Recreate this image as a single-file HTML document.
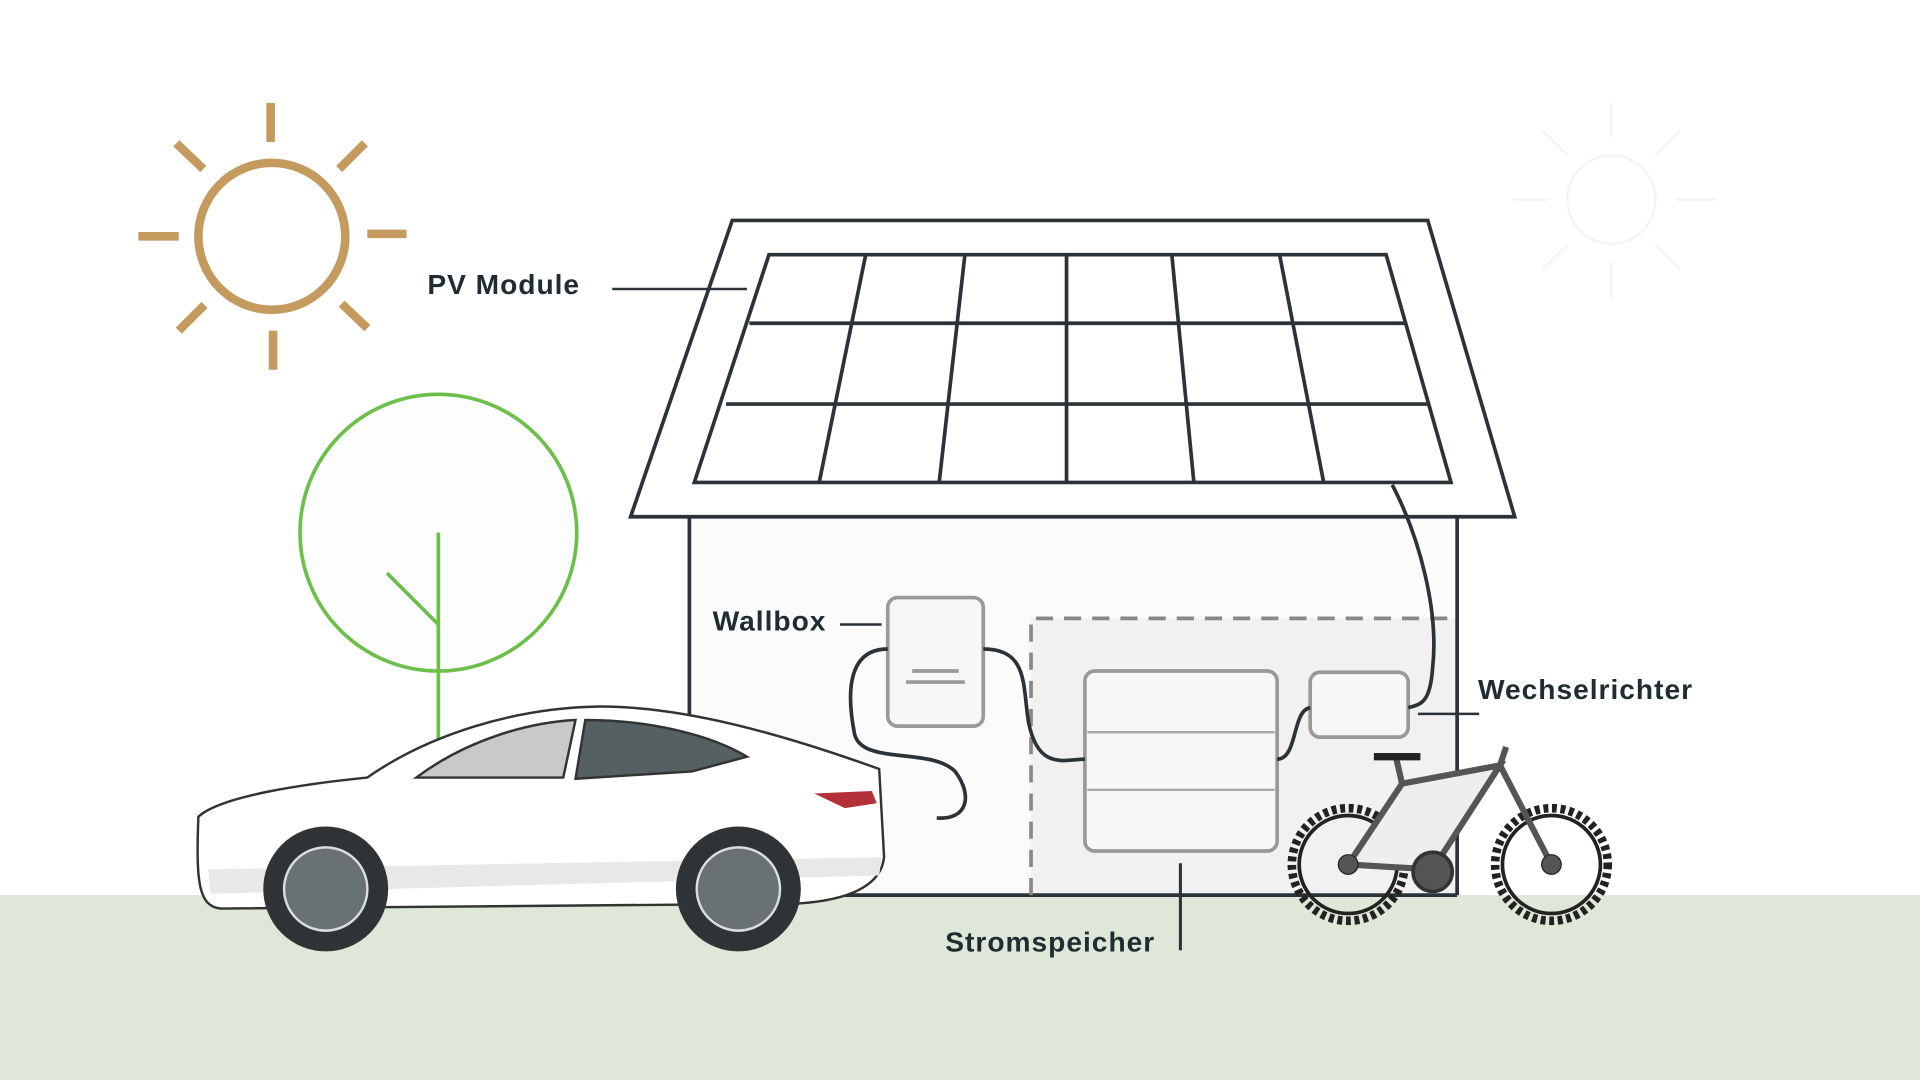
<!DOCTYPE html>
<html><head><meta charset="utf-8"><style>
html,body{margin:0;padding:0;background:#fff;}
svg{display:block}
text{font-family:"Liberation Sans",sans-serif;font-weight:bold;fill:#1f2d33;font-size:23px;letter-spacing:0.8px}
</style></head><body>
<svg width="1920" height="1080" viewBox="0 0 1568 882" xmlns="http://www.w3.org/2000/svg">
<rect x="0" y="0" width="1568" height="882" fill="#fff"/>
<rect x="0" y="731" width="1568" height="151" fill="#dfe8d8"/>
<!-- sun -->
<g stroke="#c49a5e" stroke-width="7" fill="none" stroke-linecap="butt">
<circle cx="222" cy="193" r="60"/>
<line x1="221" y1="84" x2="221" y2="116"/><line x1="223" y1="270" x2="223" y2="302"/>
<line x1="113" y1="193" x2="146" y2="193"/><line x1="300" y1="191" x2="332" y2="191"/>
<line x1="144" y1="117" x2="166" y2="138"/><line x1="298" y1="117" x2="277" y2="138"/>
<line x1="146" y1="270" x2="167" y2="249"/><line x1="300" y1="268" x2="279" y2="248"/>
</g>
<g stroke="#f4f4f4" stroke-width="2" fill="none">
<circle cx="1316" cy="163" r="36"/>
<line x1="1316" y1="84" x2="1316" y2="112"/><line x1="1316" y1="214" x2="1316" y2="244"/>
<line x1="1235" y1="163" x2="1265" y2="163"/><line x1="1368" y1="163" x2="1402" y2="163"/>
<line x1="1260" y1="107" x2="1280" y2="127"/><line x1="1372" y1="107" x2="1352" y2="127"/>
<line x1="1260" y1="220" x2="1280" y2="200"/><line x1="1372" y1="220" x2="1352" y2="200"/>
</g>
<!-- tree -->
<g stroke="#6cc04a" stroke-width="3" fill="none">
<circle cx="358" cy="435" r="113" fill="#fdfdfd"/>
<line x1="358" y1="435" x2="358" y2="610"/><line x1="316" y1="468" x2="358" y2="510"/>
</g>
<!-- house -->
<rect x="563" y="422" width="627" height="309" fill="#fbfbfb"/>
<rect x="842" y="505" width="348" height="226" fill="#f1f1f1"/>
<g stroke="#2b3338" stroke-width="3" fill="none">
<line x1="563" y1="422" x2="563" y2="731"/><line x1="1190" y1="422" x2="1190" y2="731"/>
<line x1="563" y1="731" x2="1190" y2="731"/>
<polygon points="598,180 1166,180 1237,422 515,422" fill="#fff"/>
<polygon points="628,208 1132,208 1185,394 567,394" fill="#fff"/>
<line x1="612" y1="264" x2="1148" y2="264"/><line x1="593" y1="330" x2="1166" y2="330"/>
<line x1="707" y1="208" x2="669" y2="394"/><line x1="788" y1="208" x2="767" y2="394"/>
<line x1="871" y1="208" x2="871" y2="394"/><line x1="957" y1="208" x2="975" y2="394"/>
<line x1="1045" y1="208" x2="1081" y2="394"/>
</g>
<path d="M842 731 V505 H1190" stroke="#888" stroke-width="3" stroke-dasharray="14 9" fill="none"/>
<!-- devices -->
<g stroke="#999" stroke-width="3" fill="#f7f7f7">
<rect x="725" y="488" width="78" height="105" rx="8"/>
<rect x="886" y="548" width="157" height="147" rx="8"/>
<rect x="1070" y="549" width="80" height="53" rx="8"/>
</g>
<g stroke="#999" stroke-width="3"><line x1="745" y1="548" x2="783" y2="548"/><line x1="740" y1="557" x2="788" y2="557"/></g>
<g stroke="#aaa" stroke-width="2"><line x1="888" y1="598" x2="1041" y2="598"/><line x1="888" y1="645" x2="1041" y2="645"/></g>
<!-- cables -->
<g stroke="#2b3338" stroke-width="3" fill="none">
<path d="M1137 396 C1160 440 1175 500 1170 545 C1168 575 1160 575 1150 578"/>
<path d="M803 530 C840 530 835 560 840 590 C848 630 870 620 886 620"/>
<path d="M1043 620 C1060 620 1055 580 1070 578"/>
<path d="M725 530 C695 530 690 560 698 600 C705 625 760 610 780 630 C795 650 790 670 765 668"/>
<line x1="500" y1="236" x2="610" y2="236" stroke-width="2"/>
<line x1="686" y1="510" x2="720" y2="510" stroke-width="2"/>
<line x1="1158" y1="583" x2="1208" y2="583" stroke-width="2"/>
<line x1="964" y1="705" x2="964" y2="776" stroke-width="2.5"/>
</g>
<text x="349" y="240">PV Module</text>
<text x="582" y="515">Wallbox</text>
<text x="1207" y="571">Wechselrichter</text>
<text x="772" y="777">Stromspeicher</text>
<!-- bike -->
<g stroke="#222" fill="none">
<circle cx="1101" cy="706" r="46" stroke-width="7" stroke-dasharray="4 3"/>
<circle cx="1101" cy="706" r="40" stroke-width="3"/>
<circle cx="1267" cy="706" r="46" stroke-width="7" stroke-dasharray="4 3"/>
<circle cx="1267" cy="706" r="40" stroke-width="3"/>
<g stroke="#555" stroke-width="5" fill="#eee">
<path d="M1101 706 L1145 640 L1225 625 L1170 710 Z"/>
<path d="M1145 640 L1140 618"/><path d="M1225 625 L1267 706"/><path d="M1225 625 L1230 610"/>
</g>
<circle cx="1170" cy="712" r="16" fill="#555" stroke="#333" stroke-width="3"/>
<path d="M1122 618 H1160" stroke-width="6"/>
<circle cx="1101" cy="706" r="8" fill="#555"/><circle cx="1267" cy="706" r="8" fill="#555"/>
</g>
<!-- car -->
<g stroke="#333" stroke-width="2">
<path d="M162 667 C180 650 250 640 300 635 C350 600 420 578 490 577 C560 577 640 600 718 628 L722 700 C720 720 700 735 650 738 L180 742 C162 740 160 720 162 667 Z" fill="#fff"/>
<path d="M340 635 C380 605 430 590 470 588 L460 635 Z" fill="#c9c9c9"/>
<path d="M478 588 C530 588 580 600 610 618 L565 630 L470 636 Z" fill="#556062"/>
<path d="M665 648 L712 646 L716 656 L690 660 Z" fill="#b3303a" stroke="none"/>
<path d="M170 710 L720 700 L718 715 L172 730 Z" fill="#e8e8e8" stroke="none"/>
<circle cx="266" cy="726" r="50" fill="#2d3336"/><circle cx="266" cy="726" r="34" fill="#6a7174" stroke="#ddd"/>
<circle cx="603" cy="726" r="50" fill="#2d3336"/><circle cx="603" cy="726" r="34" fill="#6a7174" stroke="#ddd"/>
</g>
</svg>
</body></html>
